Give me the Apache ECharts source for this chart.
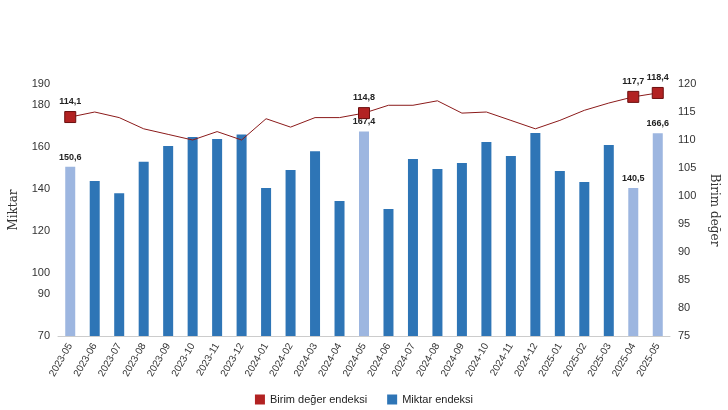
<!DOCTYPE html><html><head><meta charset="utf-8"><script src="https://cdn.jsdelivr.net/npm/echarts@6/dist/echarts.min.js"></script></head><body style="margin:0"><div id="c" style="width:728px;height:410px"></div><script>
const categories=['2023-05','2023-06','2023-07','2023-08','2023-09','2023-10','2023-11','2023-12','2024-01','2024-02','2024-03','2024-04','2024-05','2024-06','2024-07','2024-08','2024-09','2024-10','2024-11','2024-12','2025-01','2025-02','2025-03','2025-04','2025-05'];
const miktar=[150.6,143.8,138,153,160.5,164.8,163.8,166,140.5,149,158,134.3,167.4,130.5,154.3,149.5,152.4,162.4,155.7,166.7,148.6,143.3,161,140.5,166.6];
const birim=[114.1,115,114,112,111,110,111.5,110,113.8,112.3,114,114,114.8,116.2,116.2,117,114.8,115,113.5,112,113.5,115.3,116.6,117.7,118.4];
const highlight=[0,12,23,24];
const leftTicks=[70,90,100,120,140,160,180,190];
const fmt=v=>String(v).replace('.',',');
const lab={show:true,position:'top',fontSize:9,fontWeight:'bold',color:'#222',fontFamily:'Liberation Sans',formatter:p=>fmt(p.value)};
const chart=echarts.init(document.getElementById('c'));
chart.setOption({animation:false,
grid:{left:58,right:58,top:84,bottom:74},
legend:{bottom:0,itemWidth:10,itemHeight:10,itemGap:20,textStyle:{fontSize:11,color:'#222',fontFamily:'Liberation Sans'},data:[{name:'Birim değer endeksi',icon:'rect'},{name:'Miktar endeksi',icon:'rect'}]},
xAxis:{type:'category',data:categories,axisTick:{show:false},axisLine:{lineStyle:{color:'#ccc'}},axisLabel:{rotate:60,fontSize:10,color:'#333',fontFamily:'Liberation Sans',interval:0}},
yAxis:[{type:'value',min:70,max:190,interval:10,name:'Miktar',nameLocation:'middle',nameGap:38,nameTextStyle:{fontFamily:'DejaVu Serif',fontSize:12,color:'#333'},splitLine:{show:false},axisLine:{show:false},axisLabel:{fontSize:11,color:'#333',fontFamily:'Liberation Sans',formatter:v=>leftTicks.includes(v)?v:''}},
{type:'value',min:75,max:120,interval:5,name:'Birim değer',nameLocation:'middle',nameGap:38,nameRotate:-90,nameTextStyle:{fontFamily:'DejaVu Serif',fontSize:12,color:'#333'},splitLine:{show:false},axisLine:{show:false},axisLabel:{fontSize:11,color:'#333',fontFamily:'Liberation Sans'}}],
series:[{name:'Miktar endeksi',type:'bar',barWidth:10,itemStyle:{color:'#2e75b6'},data:miktar.map((v,i)=>highlight.includes(i)?{value:v,itemStyle:{color:'#9db6e0'},label:lab}:v)},
{name:'Birim değer endeksi',type:'line',yAxisIndex:1,symbol:'none',lineStyle:{color:'#8b1a1a',width:1},itemStyle:{color:'#b22222'},data:birim.map((v,i)=>highlight.includes(i)?{value:v,symbol:'rect',symbolSize:11,itemStyle:{color:'#b22222',borderColor:'#6b0f0f',borderWidth:1},label:lab}:v)}]
});
</script></body></html>
